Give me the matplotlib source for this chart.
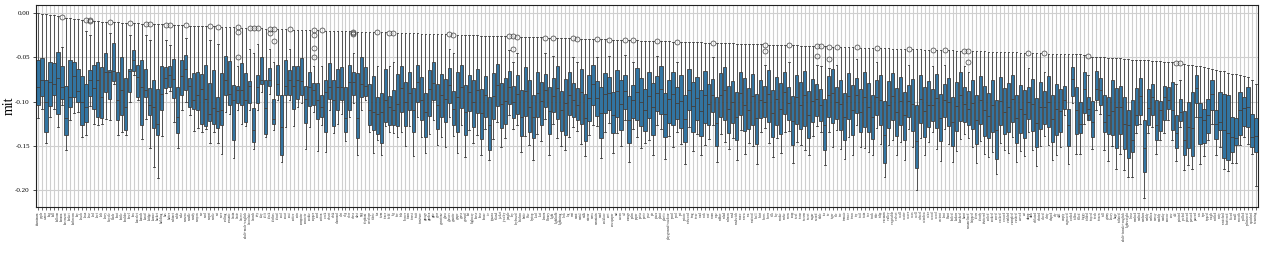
import matplotlib
matplotlib.use("Agg")
import matplotlib.pyplot as plt

# ---------------- data ----------------
LABELS = [
 "aluminum","apple","armor","bag","ball","balloon","banana","basement","basket","bathroom",
 "bay","beach","bean","bear","bed","beef","belt","berry","bicycle","blade",
 "boat","bottle","boulder","bowl","box","bracelet","branch","bread","bridge","bronze",
 "bucket","building","bus","butter","cabinet","cable","cake","camera","candle","candy",
 "canyon","car","card","carpet","castle","cat","cave","ceiling","ceramic","chain",
 "chair","cheese","adult+male+english","chocolate","church","city","clay","cliff","clock","clothes",
 "cloud","coal","coast","coat","coffee","coin","computer","concrete","cookie","copper",
 "cord","cotton","creek","desert","desk","diamond","dirt","dog","door","dress",
 "dust","egg","elephant","envelope","fabric","fan","farm","fence","field","fig",
 "fire","fish","flower","foam","forest","fruit","furniture","garage","garden","gate",
 "gear","gemstone","glass","glasses","granite","grape","grass","ground","hat","highway",
 "horse","hose","house","ice","iguana","island","jacket","jewelry","jungle","key",
 "keyboard","kitchen","knife","lake","laptop","lead","leaf","lemon","library","light",
 "lightbulb","lightning","lock","log","mat","meat","metal","milk","mirror","moss",
 "mountain","mud","necklace","nest","newspaper","nut","ocean","oil","orange","palm",
 "paper","pasta","paste","pear","pie","pizza","plant","plastic","playground+outdoor","pond",
 "pool","pot","potato","redwood","ring","river","road","rock","roof","room",
 "rope","rubber","salad","salmon","sand","sandwich","sauce","screw","sea","seafood",
 "shell","shirt","shoes","shore","silk","sky","smoke","snake","snow","soup",
 "steel","stone","stream","street","sugar","sword","table","tea","tie","tiger",
 "tile","tire","tomato","tower","town","toy","trail","train","tree","truck",
 "tube","tulip","vacuum","valley","vegetable","velvet","wall","water","wave","wax",
 "well","wheel","window","wire","wood","wool","ancient","bent","blunt","boiled",
 "broken","brushed","burnt","caramelized","chipped","clean","cloudy","cluttered","coiled","cooked",
 "cored","cracked","creased","crinkled","crumpled","crushed","curved","cut","damp","dark",
 "deflated","dented","diced","dirty","draped","dry","dull","empty","engraved","eroded",
 "fallen","filled","foggy","folded","frayed","fresh","frozen","full","grimy","heavy",
 "huge","inflated","adult+female+english","lightweight","loose","mashed","melted","modern","moldy","molten",
 "mossy","muddy","murky","narrow","new","old","painted","peeled","pierced","pressed",
 "pureed","raw","ripe","ripped","rough","ruffled","rusty","scratched","shattered","sliced",
 "small","smooth","spilled","splintered","squished","steaming",
]

# highest observation of each category (upper whisker, or top outlier)
TOP = [
 0.0000,-0.0008,-0.0012,-0.0016,-0.0022,-0.0030,-0.0045,-0.0050,-0.0055,-0.0060,
 -0.0066,-0.0070,-0.0075,-0.0080,-0.0088,-0.0090,-0.0093,-0.0096,-0.0098,-0.0100,
 -0.0102,-0.0104,-0.0106,-0.0108,-0.0110,-0.0112,-0.0115,-0.0117,-0.0119,-0.0121,
 -0.0123,-0.0125,-0.0127,-0.0129,-0.0131,-0.0133,-0.0135,-0.0137,-0.0139,-0.0140,
 -0.0141,-0.0143,-0.0145,-0.0146,-0.0148,-0.0150,-0.0152,-0.0154,-0.0156,-0.0158,
 -0.0160,-0.0162,-0.0164,-0.0166,-0.0167,-0.0168,-0.0170,-0.0172,-0.0173,-0.0175,
 -0.0176,-0.0178,-0.0180,-0.0181,-0.0183,-0.0185,-0.0186,-0.0188,-0.0189,-0.0191,
 -0.0192,-0.0194,-0.0195,-0.0197,-0.0198,-0.0200,-0.0201,-0.0203,-0.0204,-0.0206,
 -0.0207,-0.0209,-0.0210,-0.0211,-0.0213,-0.0214,-0.0215,-0.0216,-0.0218,-0.0219,
 -0.0220,-0.0222,-0.0223,-0.0225,-0.0226,-0.0228,-0.0229,-0.0231,-0.0232,-0.0234,
 -0.0235,-0.0236,-0.0238,-0.0239,-0.0241,-0.0242,-0.0244,-0.0245,-0.0246,-0.0248,
 -0.0249,-0.0251,-0.0252,-0.0254,-0.0255,-0.0257,-0.0258,-0.0259,-0.0261,-0.0262,
 -0.0264,-0.0265,-0.0267,-0.0268,-0.0269,-0.0271,-0.0272,-0.0274,-0.0275,-0.0277,
 -0.0278,-0.0279,-0.0281,-0.0282,-0.0284,-0.0285,-0.0287,-0.0288,-0.0290,-0.0291,
 -0.0292,-0.0294,-0.0295,-0.0297,-0.0298,-0.0300,-0.0301,-0.0302,-0.0304,-0.0305,
 -0.0307,-0.0308,-0.0310,-0.0311,-0.0312,-0.0314,-0.0315,-0.0317,-0.0318,-0.0320,
 -0.0321,-0.0323,-0.0324,-0.0325,-0.0327,-0.0328,-0.0330,-0.0331,-0.0333,-0.0334,
 -0.0335,-0.0337,-0.0338,-0.0340,-0.0341,-0.0343,-0.0344,-0.0346,-0.0347,-0.0348,
 -0.0350,-0.0351,-0.0353,-0.0354,-0.0356,-0.0357,-0.0358,-0.0360,-0.0361,-0.0363,
 -0.0364,-0.0366,-0.0367,-0.0369,-0.0370,-0.0371,-0.0373,-0.0374,-0.0376,-0.0377,
 -0.0379,-0.0380,-0.0381,-0.0383,-0.0384,-0.0386,-0.0387,-0.0389,-0.0390,-0.0392,
 -0.0393,-0.0394,-0.0396,-0.0397,-0.0399,-0.0400,-0.0402,-0.0403,-0.0404,-0.0406,
 -0.0407,-0.0409,-0.0410,-0.0412,-0.0413,-0.0415,-0.0416,-0.0417,-0.0419,-0.0420,
 -0.0422,-0.0423,-0.0425,-0.0426,-0.0427,-0.0429,-0.0430,-0.0432,-0.0433,-0.0435,
 -0.0436,-0.0438,-0.0439,-0.0440,-0.0442,-0.0443,-0.0445,-0.0446,-0.0448,-0.0449,
 -0.0450,-0.0452,-0.0453,-0.0455,-0.0456,-0.0458,-0.0459,-0.0459,-0.0459,-0.0460,
 -0.0462,-0.0466,-0.0472,-0.0485,-0.0489,-0.0492,-0.0496,-0.0500,-0.0504,-0.0506,
 -0.0508,-0.0511,-0.0515,-0.0519,-0.0523,-0.0525,-0.0526,-0.0530,-0.0534,-0.0537,
 -0.0541,-0.0545,-0.0549,-0.0552,-0.0556,-0.0560,-0.0562,-0.0571,-0.0580,-0.0590,
 -0.0596,-0.0602,-0.0611,-0.0620,-0.0630,-0.0639,-0.0648,-0.0658,-0.0671,-0.0684,
 -0.0690,-0.0695,-0.0708,-0.0722,-0.0750,-0.0805,
]

# categories whose top point is an outlier: index -> (upper whisker, other outliers)
FLIER_BOXES = {
 6: (-0.038, []), 12: (-0.020, []), 13: (-0.025, [-0.0085]), 18: (-0.022, []),
 23: (-0.024, []), 27: (-0.025, []), 28: (-0.030, []), 32: (-0.030, []),
 33: (-0.036, []), 37: (-0.028, []), 43: (-0.030, []), 45: (-0.035, []),
 50: (-0.060, [-0.0210, -0.0490]), 53: (-0.040, []), 54: (-0.045, []),
 55: (-0.035, []), 58: (-0.040, [-0.0222]), 59: (-0.055, [-0.0316]),
 63: (-0.040, []), 69: (-0.060, [-0.0248, -0.0390, -0.0496]), 71: (-0.060, []),
 79: (-0.045, [-0.0220, -0.0236]), 85: (-0.060, []), 88: (-0.060, []),
 89: (-0.055, []), 103: (-0.040, []), 104: (-0.045, []), 118: (-0.042, []),
 119: (-0.055, [-0.040]), 120: (-0.045, []), 127: (-0.045, []), 129: (-0.048, []),
 134: (-0.050, []), 135: (-0.055, []), 140: (-0.050, []), 143: (-0.048, []),
 147: (-0.047, []), 149: (-0.055, []), 155: (-0.048, []), 160: (-0.055, []),
 169: (-0.050, []), 182: (-0.058, [-0.043]), 188: (-0.055, []),
 195: (-0.058, [-0.048]), 196: (-0.060, []), 198: (-0.062, [-0.052]),
 200: (-0.058, []), 205: (-0.052, []), 210: (-0.055, []), 218: (-0.058, []),
 224: (-0.060, []), 227: (-0.058, []), 232: (-0.060, []), 233: (-0.066, [-0.055]),
 248: (-0.062, []), 252: (-0.066, []), 263: (-0.070, []), 285: (-0.080, []),
 286: (-0.075, []),
}

Q3 = [
 -0.053,-0.051,-0.075,-0.055,-0.056,-0.044,-0.060,-0.082,-0.053,-0.055,
 -0.063,-0.071,-0.080,-0.064,-0.058,-0.055,-0.061,-0.045,-0.064,-0.034,
 -0.067,-0.049,-0.073,-0.063,-0.041,-0.059,-0.053,-0.063,-0.085,-0.075,
 -0.086,-0.060,-0.061,-0.060,-0.052,-0.083,-0.053,-0.047,-0.073,-0.068,
 -0.066,-0.069,-0.059,-0.079,-0.064,-0.095,-0.068,-0.048,-0.054,-0.081,
 -0.082,-0.056,-0.068,-0.077,-0.107,-0.070,-0.050,-0.075,-0.062,-0.097,
 -0.058,-0.093,-0.053,-0.064,-0.060,-0.060,-0.051,-0.082,-0.067,-0.079,
 -0.079,-0.093,-0.075,-0.056,-0.076,-0.063,-0.061,-0.084,-0.058,-0.067,
 -0.068,-0.050,-0.061,-0.080,-0.071,-0.095,-0.090,-0.063,-0.094,-0.087,
 -0.069,-0.060,-0.078,-0.066,-0.085,-0.058,-0.072,-0.090,-0.064,-0.055,
 -0.080,-0.069,-0.074,-0.062,-0.088,-0.067,-0.059,-0.081,-0.070,-0.076,
 -0.063,-0.086,-0.071,-0.095,-0.068,-0.057,-0.079,-0.073,-0.065,-0.082,
 -0.070,-0.087,-0.061,-0.075,-0.092,-0.066,-0.078,-0.069,-0.084,-0.073,
 -0.060,-0.088,-0.074,-0.067,-0.079,-0.085,-0.063,-0.091,-0.070,-0.058,
 -0.077,-0.083,-0.068,-0.072,-0.089,-0.064,-0.076,-0.070,-0.094,-0.081,
 -0.062,-0.073,-0.086,-0.067,-0.079,-0.071,-0.060,-0.090,-0.075,-0.066,
 -0.084,-0.070,-0.093,-0.063,-0.078,-0.072,-0.087,-0.065,-0.080,-0.074,
 -0.095,-0.068,-0.061,-0.082,-0.077,-0.089,-0.066,-0.073,-0.085,-0.069,
 -0.091,-0.076,-0.082,-0.064,-0.087,-0.072,-0.079,-0.067,-0.083,-0.094,
 -0.070,-0.078,-0.065,-0.088,-0.074,-0.080,-0.086,-0.097,-0.071,-0.063,
 -0.084,-0.076,-0.090,-0.068,-0.081,-0.073,-0.086,-0.066,-0.079,-0.092,
 -0.075,-0.070,-0.099,-0.077,-0.068,-0.085,-0.072,-0.089,-0.081,-0.074,
 -0.104,-0.070,-0.083,-0.077,-0.086,-0.069,-0.091,-0.080,-0.073,-0.095,
 -0.078,-0.067,-0.084,-0.088,-0.075,-0.093,-0.071,-0.082,-0.090,-0.076,
 -0.098,-0.072,-0.085,-0.079,-0.070,-0.092,-0.081,-0.087,-0.083,-0.074,
 -0.096,-0.078,-0.088,-0.071,-0.093,-0.080,-0.086,-0.082,-0.108,-0.061,
 -0.083,-0.100,-0.066,-0.095,-0.099,-0.065,-0.073,-0.092,-0.095,-0.076,
 -0.085,-0.082,-0.095,-0.109,-0.098,-0.085,-0.073,-0.121,-0.086,-0.080,
 -0.098,-0.099,-0.082,-0.083,-0.078,-0.115,-0.097,-0.111,-0.100,-0.089,
 -0.070,-0.102,-0.108,-0.097,-0.075,-0.109,-0.089,-0.091,-0.093,-0.118,
 -0.119,-0.089,-0.095,-0.083,-0.114,-0.119,
]

MED = [
 -0.083,-0.075,-0.100,-0.078,-0.080,-0.073,-0.084,-0.119,-0.095,-0.071,
 -0.088,-0.100,-0.106,-0.076,-0.085,-0.076,-0.095,-0.067,-0.066,-0.065,
 -0.098,-0.087,-0.106,-0.065,-0.053,-0.072,-0.083,-0.087,-0.104,-0.106,
 -0.125,-0.091,-0.073,-0.070,-0.074,-0.117,-0.071,-0.063,-0.082,-0.098,
 -0.092,-0.086,-0.097,-0.114,-0.107,-0.111,-0.110,-0.076,-0.091,-0.098,
 -0.087,-0.087,-0.098,-0.082,-0.132,-0.083,-0.076,-0.107,-0.076,-0.120,
 -0.080,-0.129,-0.082,-0.075,-0.082,-0.076,-0.077,-0.097,-0.083,-0.087,
 -0.098,-0.106,-0.089,-0.084,-0.098,-0.083,-0.083,-0.119,-0.078,-0.078,
 -0.119,-0.080,-0.082,-0.110,-0.112,-0.114,-0.112,-0.098,-0.106,-0.110,
 -0.103,-0.085,-0.101,-0.090,-0.110,-0.078,-0.098,-0.112,-0.086,-0.079,
 -0.104,-0.093,-0.097,-0.081,-0.108,-0.095,-0.083,-0.112,-0.089,-0.101,
 -0.087,-0.113,-0.092,-0.126,-0.094,-0.081,-0.103,-0.099,-0.084,-0.101,
 -0.091,-0.118,-0.088,-0.106,-0.117,-0.090,-0.099,-0.087,-0.111,-0.094,
 -0.085,-0.109,-0.102,-0.092,-0.098,-0.104,-0.089,-0.119,-0.096,-0.080,
 -0.096,-0.113,-0.091,-0.090,-0.115,-0.088,-0.103,-0.088,-0.121,-0.098,
 -0.089,-0.100,-0.109,-0.094,-0.106,-0.090,-0.086,-0.114,-0.097,-0.091,
 -0.102,-0.099,-0.120,-0.087,-0.105,-0.096,-0.111,-0.092,-0.103,-0.092,
 -0.124,-0.093,-0.087,-0.108,-0.100,-0.117,-0.090,-0.104,-0.110,-0.094,
 -0.119,-0.098,-0.100,-0.091,-0.113,-0.097,-0.108,-0.089,-0.102,-0.122,
 -0.095,-0.104,-0.093,-0.115,-0.099,-0.097,-0.104,-0.127,-0.093,-0.090,
 -0.101,-0.103,-0.117,-0.094,-0.109,-0.092,-0.112,-0.095,-0.106,-0.118,
 -0.095,-0.098,-0.138,-0.104,-0.094,-0.112,-0.099,-0.115,-0.099,-0.103,
 -0.145,-0.097,-0.111,-0.104,-0.104,-0.096,-0.119,-0.098,-0.101,-0.123,
 -0.105,-0.093,-0.103,-0.108,-0.102,-0.121,-0.098,-0.110,-0.116,-0.104,
 -0.132,-0.099,-0.112,-0.106,-0.097,-0.119,-0.108,-0.114,-0.101,-0.103,
 -0.124,-0.106,-0.106,-0.100,-0.120,-0.108,-0.111,-0.098,-0.127,-0.074,
 -0.110,-0.125,-0.086,-0.108,-0.123,-0.086,-0.087,-0.123,-0.115,-0.111,
 -0.106,-0.106,-0.125,-0.127,-0.144,-0.115,-0.094,-0.153,-0.107,-0.095,
 -0.126,-0.110,-0.095,-0.098,-0.110,-0.136,-0.112,-0.144,-0.129,-0.130,
 -0.085,-0.117,-0.121,-0.115,-0.091,-0.125,-0.123,-0.132,-0.136,-0.140,
 -0.141,-0.110,-0.107,-0.106,-0.140,-0.139,
]

Q1 = [
 -0.104,-0.094,-0.134,-0.105,-0.093,-0.114,-0.097,-0.138,-0.106,-0.095,
 -0.100,-0.126,-0.123,-0.094,-0.108,-0.117,-0.119,-0.089,-0.097,-0.077,
 -0.121,-0.115,-0.132,-0.089,-0.065,-0.095,-0.127,-0.095,-0.115,-0.130,
 -0.138,-0.110,-0.085,-0.083,-0.096,-0.136,-0.093,-0.087,-0.106,-0.108,
 -0.110,-0.125,-0.128,-0.122,-0.125,-0.130,-0.127,-0.092,-0.104,-0.144,
 -0.102,-0.104,-0.123,-0.102,-0.146,-0.102,-0.080,-0.137,-0.082,-0.125,
 -0.093,-0.161,-0.092,-0.092,-0.108,-0.097,-0.093,-0.124,-0.105,-0.104,
 -0.120,-0.117,-0.134,-0.097,-0.128,-0.110,-0.098,-0.134,-0.109,-0.093,
 -0.141,-0.095,-0.094,-0.126,-0.132,-0.137,-0.147,-0.123,-0.126,-0.127,
 -0.128,-0.112,-0.128,-0.110,-0.135,-0.100,-0.121,-0.140,-0.116,-0.098,
 -0.131,-0.118,-0.123,-0.102,-0.126,-0.134,-0.107,-0.138,-0.111,-0.129,
 -0.113,-0.142,-0.118,-0.155,-0.120,-0.105,-0.130,-0.125,-0.103,-0.119,
 -0.114,-0.139,-0.116,-0.134,-0.141,-0.118,-0.126,-0.106,-0.137,-0.112,
 -0.120,-0.133,-0.138,-0.115,-0.117,-0.121,-0.125,-0.145,-0.122,-0.104,
 -0.116,-0.141,-0.113,-0.110,-0.136,-0.117,-0.132,-0.108,-0.147,-0.119,
 -0.121,-0.128,-0.133,-0.119,-0.138,-0.111,-0.114,-0.140,-0.124,-0.127,
 -0.120,-0.130,-0.146,-0.110,-0.135,-0.121,-0.139,-0.124,-0.127,-0.112,
 -0.150,-0.118,-0.121,-0.136,-0.124,-0.144,-0.115,-0.133,-0.131,-0.126,
 -0.148,-0.119,-0.118,-0.123,-0.140,-0.126,-0.137,-0.114,-0.121,-0.149,
 -0.125,-0.131,-0.128,-0.141,-0.123,-0.116,-0.122,-0.155,-0.118,-0.124,
 -0.120,-0.132,-0.143,-0.120,-0.138,-0.113,-0.134,-0.129,-0.135,-0.142,
 -0.115,-0.127,-0.170,-0.130,-0.121,-0.139,-0.126,-0.143,-0.118,-0.133,
 -0.175,-0.124,-0.140,-0.129,-0.122,-0.130,-0.145,-0.117,-0.128,-0.150,
 -0.133,-0.122,-0.123,-0.127,-0.131,-0.148,-0.125,-0.139,-0.141,-0.134,
 -0.165,-0.127,-0.137,-0.134,-0.123,-0.147,-0.136,-0.141,-0.120,-0.133,
 -0.151,-0.131,-0.125,-0.129,-0.146,-0.138,-0.134,-0.108,-0.150,-0.094,
 -0.137,-0.136,-0.113,-0.121,-0.140,-0.098,-0.104,-0.135,-0.137,-0.138,
 -0.153,-0.137,-0.154,-0.164,-0.157,-0.127,-0.115,-0.180,-0.127,-0.115,
 -0.144,-0.133,-0.121,-0.108,-0.132,-0.153,-0.122,-0.160,-0.153,-0.162,
 -0.102,-0.148,-0.147,-0.136,-0.109,-0.142,-0.132,-0.164,-0.166,-0.157,
 -0.149,-0.138,-0.128,-0.129,-0.151,-0.157,
]

LO = [
 -0.119,-0.108,-0.147,-0.117,-0.108,-0.129,-0.104,-0.155,-0.121,-0.113,
 -0.112,-0.140,-0.138,-0.105,-0.125,-0.126,-0.125,-0.120,-0.121,-0.080,
 -0.138,-0.135,-0.138,-0.100,-0.070,-0.098,-0.142,-0.120,-0.153,-0.174,
 -0.187,-0.139,-0.090,-0.088,-0.123,-0.153,-0.110,-0.100,-0.115,-0.133,
 -0.130,-0.135,-0.131,-0.147,-0.134,-0.147,-0.159,-0.112,-0.114,-0.164,
 -0.110,-0.125,-0.128,-0.110,-0.154,-0.110,-0.089,-0.140,-0.091,-0.132,
 -0.098,-0.168,-0.129,-0.098,-0.128,-0.106,-0.102,-0.154,-0.129,-0.112,
 -0.156,-0.127,-0.157,-0.110,-0.136,-0.125,-0.114,-0.145,-0.117,-0.102,
 -0.161,-0.110,-0.098,-0.135,-0.158,-0.144,-0.161,-0.128,-0.134,-0.136,
 -0.140,-0.135,-0.150,-0.128,-0.162,-0.118,-0.140,-0.158,-0.137,-0.121,
 -0.149,-0.140,-0.151,-0.118,-0.139,-0.158,-0.126,-0.163,-0.132,-0.147,
 -0.138,-0.160,-0.131,-0.166,-0.142,-0.123,-0.152,-0.141,-0.115,-0.131,
 -0.126,-0.157,-0.139,-0.149,-0.166,-0.137,-0.145,-0.120,-0.161,-0.125,
 -0.141,-0.150,-0.155,-0.140,-0.129,-0.133,-0.148,-0.162,-0.138,-0.127,
 -0.128,-0.164,-0.134,-0.124,-0.158,-0.136,-0.150,-0.121,-0.169,-0.131,
 -0.140,-0.153,-0.147,-0.143,-0.160,-0.126,-0.131,-0.165,-0.139,-0.152,
 -0.134,-0.148,-0.171,-0.129,-0.156,-0.137,-0.160,-0.149,-0.142,-0.126,
 -0.168,-0.137,-0.146,-0.154,-0.141,-0.166,-0.132,-0.159,-0.147,-0.150,
 -0.171,-0.134,-0.130,-0.147,-0.163,-0.141,-0.158,-0.135,-0.133,-0.170,
 -0.146,-0.149,-0.155,-0.160,-0.139,-0.128,-0.134,-0.172,-0.134,-0.151,
 -0.132,-0.154,-0.165,-0.140,-0.160,-0.127,-0.151,-0.153,-0.157,-0.161,
 -0.130,-0.148,-0.185,-0.149,-0.143,-0.160,-0.146,-0.166,-0.131,-0.152,
 -0.200,-0.141,-0.161,-0.146,-0.135,-0.154,-0.167,-0.131,-0.148,-0.169,
 -0.156,-0.142,-0.137,-0.141,-0.152,-0.170,-0.145,-0.159,-0.163,-0.157,
 -0.182,-0.147,-0.155,-0.158,-0.140,-0.168,-0.156,-0.162,-0.134,-0.155,
 -0.173,-0.150,-0.139,-0.149,-0.166,-0.160,-0.152,-0.115,-0.171,-0.102,
 -0.159,-0.159,-0.125,-0.115,-0.154,-0.110,-0.114,-0.155,-0.167,-0.150,
 -0.176,-0.159,-0.177,-0.185,-0.185,-0.136,-0.125,-0.209,-0.136,-0.129,
 -0.159,-0.144,-0.136,-0.121,-0.144,-0.167,-0.129,-0.177,-0.172,-0.176,
 -0.117,-0.171,-0.162,-0.144,-0.125,-0.160,-0.151,-0.176,-0.179,-0.170,
 -0.170,-0.149,-0.140,-0.148,-0.159,-0.196,
]

N = len(LABELS)
assert len(TOP) == N and len(Q3) == N and len(MED) == N and len(Q1) == N and len(LO) == N

# ---------------- style ----------------
plt.rcParams['font.family'] = ['Liberation Serif', 'DejaVu Serif']
plt.rcParams['axes.unicode_minus'] = False

BOX_COLOR = '#3274a1'
LINE_COLOR = '#3f3f3f'
GRID_COLOR = '#cfcfcf'

stats = []
for i in range(N):
    if i in FLIER_BOXES:
        wh, extra = FLIER_BOXES[i]
        fl = [TOP[i]] + list(extra)
    else:
        wh, fl = TOP[i], []
    stats.append(dict(med=MED[i], q1=Q1[i], q3=Q3[i], whislo=LO[i], whishi=wh, fliers=fl))

fig = plt.figure(figsize=(12.64, 2.56), dpi=100)
ax = fig.add_axes([36 / 1264, 1 - 207 / 256, 1222 / 1264, 202 / 256])

lw = 0.6
ax.bxp(stats, positions=list(range(N)), widths=0.8, capwidths=0.4,
       patch_artist=True,
       boxprops=dict(facecolor=BOX_COLOR, edgecolor=LINE_COLOR, linewidth=lw),
       whiskerprops=dict(color=LINE_COLOR, linewidth=lw),
       capprops=dict(color=LINE_COLOR, linewidth=lw),
       medianprops=dict(color=LINE_COLOR, linewidth=lw),
       flierprops=dict(marker='o', markersize=3.6, markerfacecolor='none',
                       markeredgecolor=LINE_COLOR, markeredgewidth=0.5,
                       linestyle='none'))

ax.set_xlim(-0.5, N - 0.5)
ax.set_ylim(-0.2195, 0.0095)
ax.set_yticks([0.0, -0.05, -0.10, -0.15, -0.20])
ax.set_yticklabels(['0.00', '-0.05', '-0.10', '-0.15', '-0.20'], fontsize=5)
ax.set_xticks(list(range(N)))
ax.set_xticklabels(LABELS, rotation=90, fontsize=2.4)
ax.tick_params(axis='x', length=2, width=0.5, pad=1, colors='#333333')
ax.tick_params(axis='y', length=2.5, width=0.5, pad=2)
ax.set_ylabel('mit', fontsize=10)
ax.yaxis.set_label_coords(-0.0165, 0.5)

ax.set_axisbelow(True)
ax.grid(True, color=GRID_COLOR, linewidth=0.8)
for s in ax.spines.values():
    s.set_color('#222222')
    s.set_linewidth(0.8)

fig.savefig('out.png', dpi=100)
